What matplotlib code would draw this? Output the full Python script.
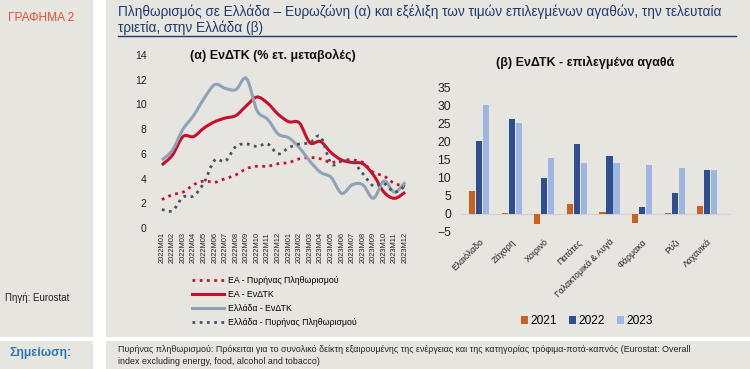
import matplotlib.pyplot as plt
from matplotlib.patches import Rectangle, Patch, PathPatch
from matplotlib.path import Path
from matplotlib.lines import Line2D

plt.rcParams["font.family"] = ["Liberation Sans", "DejaVu Sans"]

W, H = 750, 369
BG = "#E7E5E0"
RED = "#C8102E"
GREYBLUE = "#8FA2B8"
DARK = "#4A5260"
TITLE_BLUE = "#1F3B6E"

# (a) monthly inflation, 2022M01 - 2023M12
months = [f"{y}M{m:02d}" for y in (2022, 2023) for m in range(1, 13)]
ea_core = [2.3, 2.7, 2.9, 3.5, 3.8, 3.7, 4.0, 4.3, 4.8, 5.0, 5.0, 5.2,
           5.3, 5.6, 5.7, 5.6, 5.3, 5.5, 5.5, 5.3, 4.5, 4.2, 3.6, 3.4]
ea_hicp = [5.1, 5.9, 7.4, 7.4, 8.1, 8.6, 8.9, 9.1, 9.9, 10.6, 10.1, 9.2,
           8.6, 8.5, 6.9, 7.0, 6.1, 5.5, 5.3, 5.2, 4.3, 2.9, 2.4, 2.9]
gr_hicp = [5.5, 6.3, 8.0, 9.1, 10.5, 11.6, 11.3, 11.2, 12.1, 9.5, 8.8, 7.6,
           7.3, 6.5, 5.4, 4.5, 4.1, 2.8, 3.5, 3.5, 2.4, 3.8, 2.9, 3.7]
gr_core = [1.5, 1.4, 2.5, 2.6, 3.7, 5.5, 5.4, 6.6, 6.8, 6.6, 6.8, 6.0,
           6.5, 6.8, 6.9, 7.4, 5.2, 5.4, 5.4, 4.4, 3.4, 3.6, 2.9, 3.4]

# (b) selected goods
goods = ["Ελαιόλαδο", "Ζάχαρη", "Χοιρινό", "Πατάτες", "Γαλακτομικά & Αυγά",
         "Φάρμακα", "Ρύζι", "Λαχανικά"]
years = ["2021", "2022", "2023"]
v2021 = [6.3, 0.2, -2.7, 2.7, 0.6, -2.6, 0.2, 2.1]
v2022 = [20.0, 26.3, 9.8, 19.4, 16.0, 1.8, 5.8, 12.0]
v2023 = [30.0, 25.0, 15.4, 14.1, 13.9, 13.6, 12.7, 12.0]
bar_colors = ["#C8621E", "#2F4E8F", "#9FB6E2"]


def px_axes(fig, x0, y0, x1, y1):
    return fig.add_axes([x0 / W, 1 - y1 / H, (x1 - x0) / W, (y1 - y0) / H])


def smooth_line(ax, xs, ys, **kw):
    # Excel-style smoothed line: bezier segments through the data points
    n = len(xs)
    verts = [(xs[0], ys[0])]
    codes = [Path.MOVETO]
    for i in range(n - 1):
        p0 = (xs[max(i - 1, 0)], ys[max(i - 1, 0)])
        p1 = (xs[i], ys[i])
        p2 = (xs[i + 1], ys[i + 1])
        p3 = (xs[min(i + 2, n - 1)], ys[min(i + 2, n - 1)])
        c1 = (p1[0] + (p2[0] - p0[0]) / 6, p1[1] + (p2[1] - p0[1]) / 6)
        c2 = (p2[0] - (p3[0] - p1[0]) / 6, p2[1] - (p3[1] - p1[1]) / 6)
        verts += [c1, c2, p2]
        codes += [Path.CURVE4] * 3
    ax.add_patch(PathPatch(Path(verts, codes), fill=False, **kw))


fig = plt.figure(figsize=(7.5, 3.69), dpi=100)
fig.patch.set_facecolor(BG)

# white separators
fig.patches.append(Rectangle((93 / W, 0), 13 / W, 1, transform=fig.transFigure,
                             facecolor="white", edgecolor="none", zorder=0))
fig.patches.append(Rectangle((0, 1 - 341 / H), 1, 4 / H, transform=fig.transFigure,
                             facecolor="white", edgecolor="none", zorder=0))
# title underline
fig.add_artist(Line2D([118 / W, 736 / W], [1 - 36 / H] * 2, color=TITLE_BLUE, lw=1.0))

fig.text(8 / W, 1 - 18 / H, "ΓΡΑΦΗΜΑ 2", color="#E8503A", fontsize=8.6,
         ha="left", va="center")
fig.text(118 / W, 1 - 12 / H,
         "Πληθωρισμός σε Ελλάδα – Ευρωζώνη (α) και εξέλιξη των τιμών επιλεγμένων αγαθών, την τελευταία",
         color=TITLE_BLUE, fontsize=9.8, ha="left", va="center")
fig.text(118 / W, 1 - 28 / H, "τριετία, στην Ελλάδα (β)",
         color=TITLE_BLUE, fontsize=9.8, ha="left", va="center")
fig.text(5 / W, 1 - 298 / H, "Πηγή: Eurostat", color="#222222", fontsize=7.0,
         ha="left", va="center")
fig.text(10 / W, 1 - 353 / H, "Σημείωση:", color="#2E75B6", fontsize=8.8,
         weight="bold", ha="left", va="center")
fig.text(118 / W, 1 - 349 / H,
         "Πυρήνας πληθωρισμού: Πρόκειται για το συνολικό δείκτη εξαιρουμένης της ενέργειας "
         "και της κατηγορίας τρόφιμα-ποτά-καπνός (Eurostat: Overall",
         color="#222222", fontsize=6.4, ha="left", va="center")
fig.text(118 / W, 1 - 361 / H, "index excluding energy, food, alcohol and tobacco)",
         color="#222222", fontsize=6.4, ha="left", va="center")

# ---------------- (a) line chart ----------------
ax = px_axes(fig, 155, 55, 412, 228)
ax.set_facecolor("none")
x = list(range(len(months)))
dots = (0, (1, 1.6))
series = [
    (ea_core, RED, 2.0, dots, "ΕΑ - Πυρήνας Πληθωρισμού"),
    (ea_hicp, RED, 2.2, "-", "ΕΑ - ΕνΔΤΚ"),
    (gr_hicp, GREYBLUE, 2.2, "-", "Ελλάδα - ΕνΔΤΚ"),
    (gr_core, DARK, 2.0, dots, "Ελλάδα - Πυρήνας Πληθωρισμού"),
]
handles = []
for ys, col, lw, ls, lab in series:
    smooth_line(ax, x, ys, edgecolor=col, lw=lw, linestyle=ls)
    handles.append(Line2D([], [], color=col, lw=lw, ls=ls, label=lab))
ax.set_xlim(-0.65, 23.65)
ax.set_ylim(0, 14)
ax.set_yticks(range(0, 15, 2))
ax.set_xticks(x)
ax.set_xticklabels(months, rotation=90, fontsize=5.4)
ax.tick_params(axis="both", length=0, colors="#222222")
ax.tick_params(axis="y", labelsize=7.5, pad=6)
ax.tick_params(axis="x", pad=3)
for s in ax.spines.values():
    s.set_visible(False)
ax.text(0.46, 1.0, "(α) ΕνΔΤΚ (% ετ. μεταβολές)", transform=ax.transAxes,
        fontsize=9.0, weight="bold", ha="center", va="center", color="#111111")
ax.legend(handles=handles, loc="upper left", bbox_to_anchor=(188 / W, 1 - 272 / H),
          bbox_transform=fig.transFigure, frameon=False, fontsize=6.3,
          handlelength=3.6, labelspacing=0.55, borderpad=0, handletextpad=0.5)

# ---------------- (b) bar chart ----------------
bx = px_axes(fig, 462, 87, 730, 232)
bx.set_facecolor("none")
width = 0.19
step = 0.215
for k, (vals, col, yr) in enumerate(zip([v2021, v2022, v2023], bar_colors, years)):
    pos = [i + (k - 1) * step for i in range(len(goods))]
    bx.bar(pos, vals, width=width, color=col, label=yr, zorder=2)
bx.axhline(0, color="#D0D0D0", lw=0.8, zorder=1)
bx.set_ylim(-5, 35)
bx.set_yticks(range(-5, 36, 5))
bx.set_xlim(-0.53, 7.7)
bx.set_xticks(range(len(goods)))
bx.set_xticklabels(goods, rotation=45, ha="right", rotation_mode="anchor", fontsize=6.3)
bx.tick_params(axis="both", length=0, colors="#222222")
bx.tick_params(axis="y", labelsize=8.8, pad=8)
bx.tick_params(axis="x", pad=4)
for s in bx.spines.values():
    s.set_visible(False)
fig.text(585 / W, 1 - 62 / H, "(β) ΕνΔΤΚ - επιλεγμένα αγαθά", fontsize=9.0,
         weight="bold", ha="center", va="center", color="#111111")
patches = [Patch(facecolor=c, edgecolor="none") for c in bar_colors]
fig.legend(patches, years, loc="center", bbox_to_anchor=(587 / W, 1 - 321 / H),
           ncol=3, frameon=False, fontsize=8.6, handlelength=0.6, handleheight=0.6,
           handletextpad=0.2, columnspacing=1.0)

fig.savefig("out.png", dpi=100, facecolor=BG)
